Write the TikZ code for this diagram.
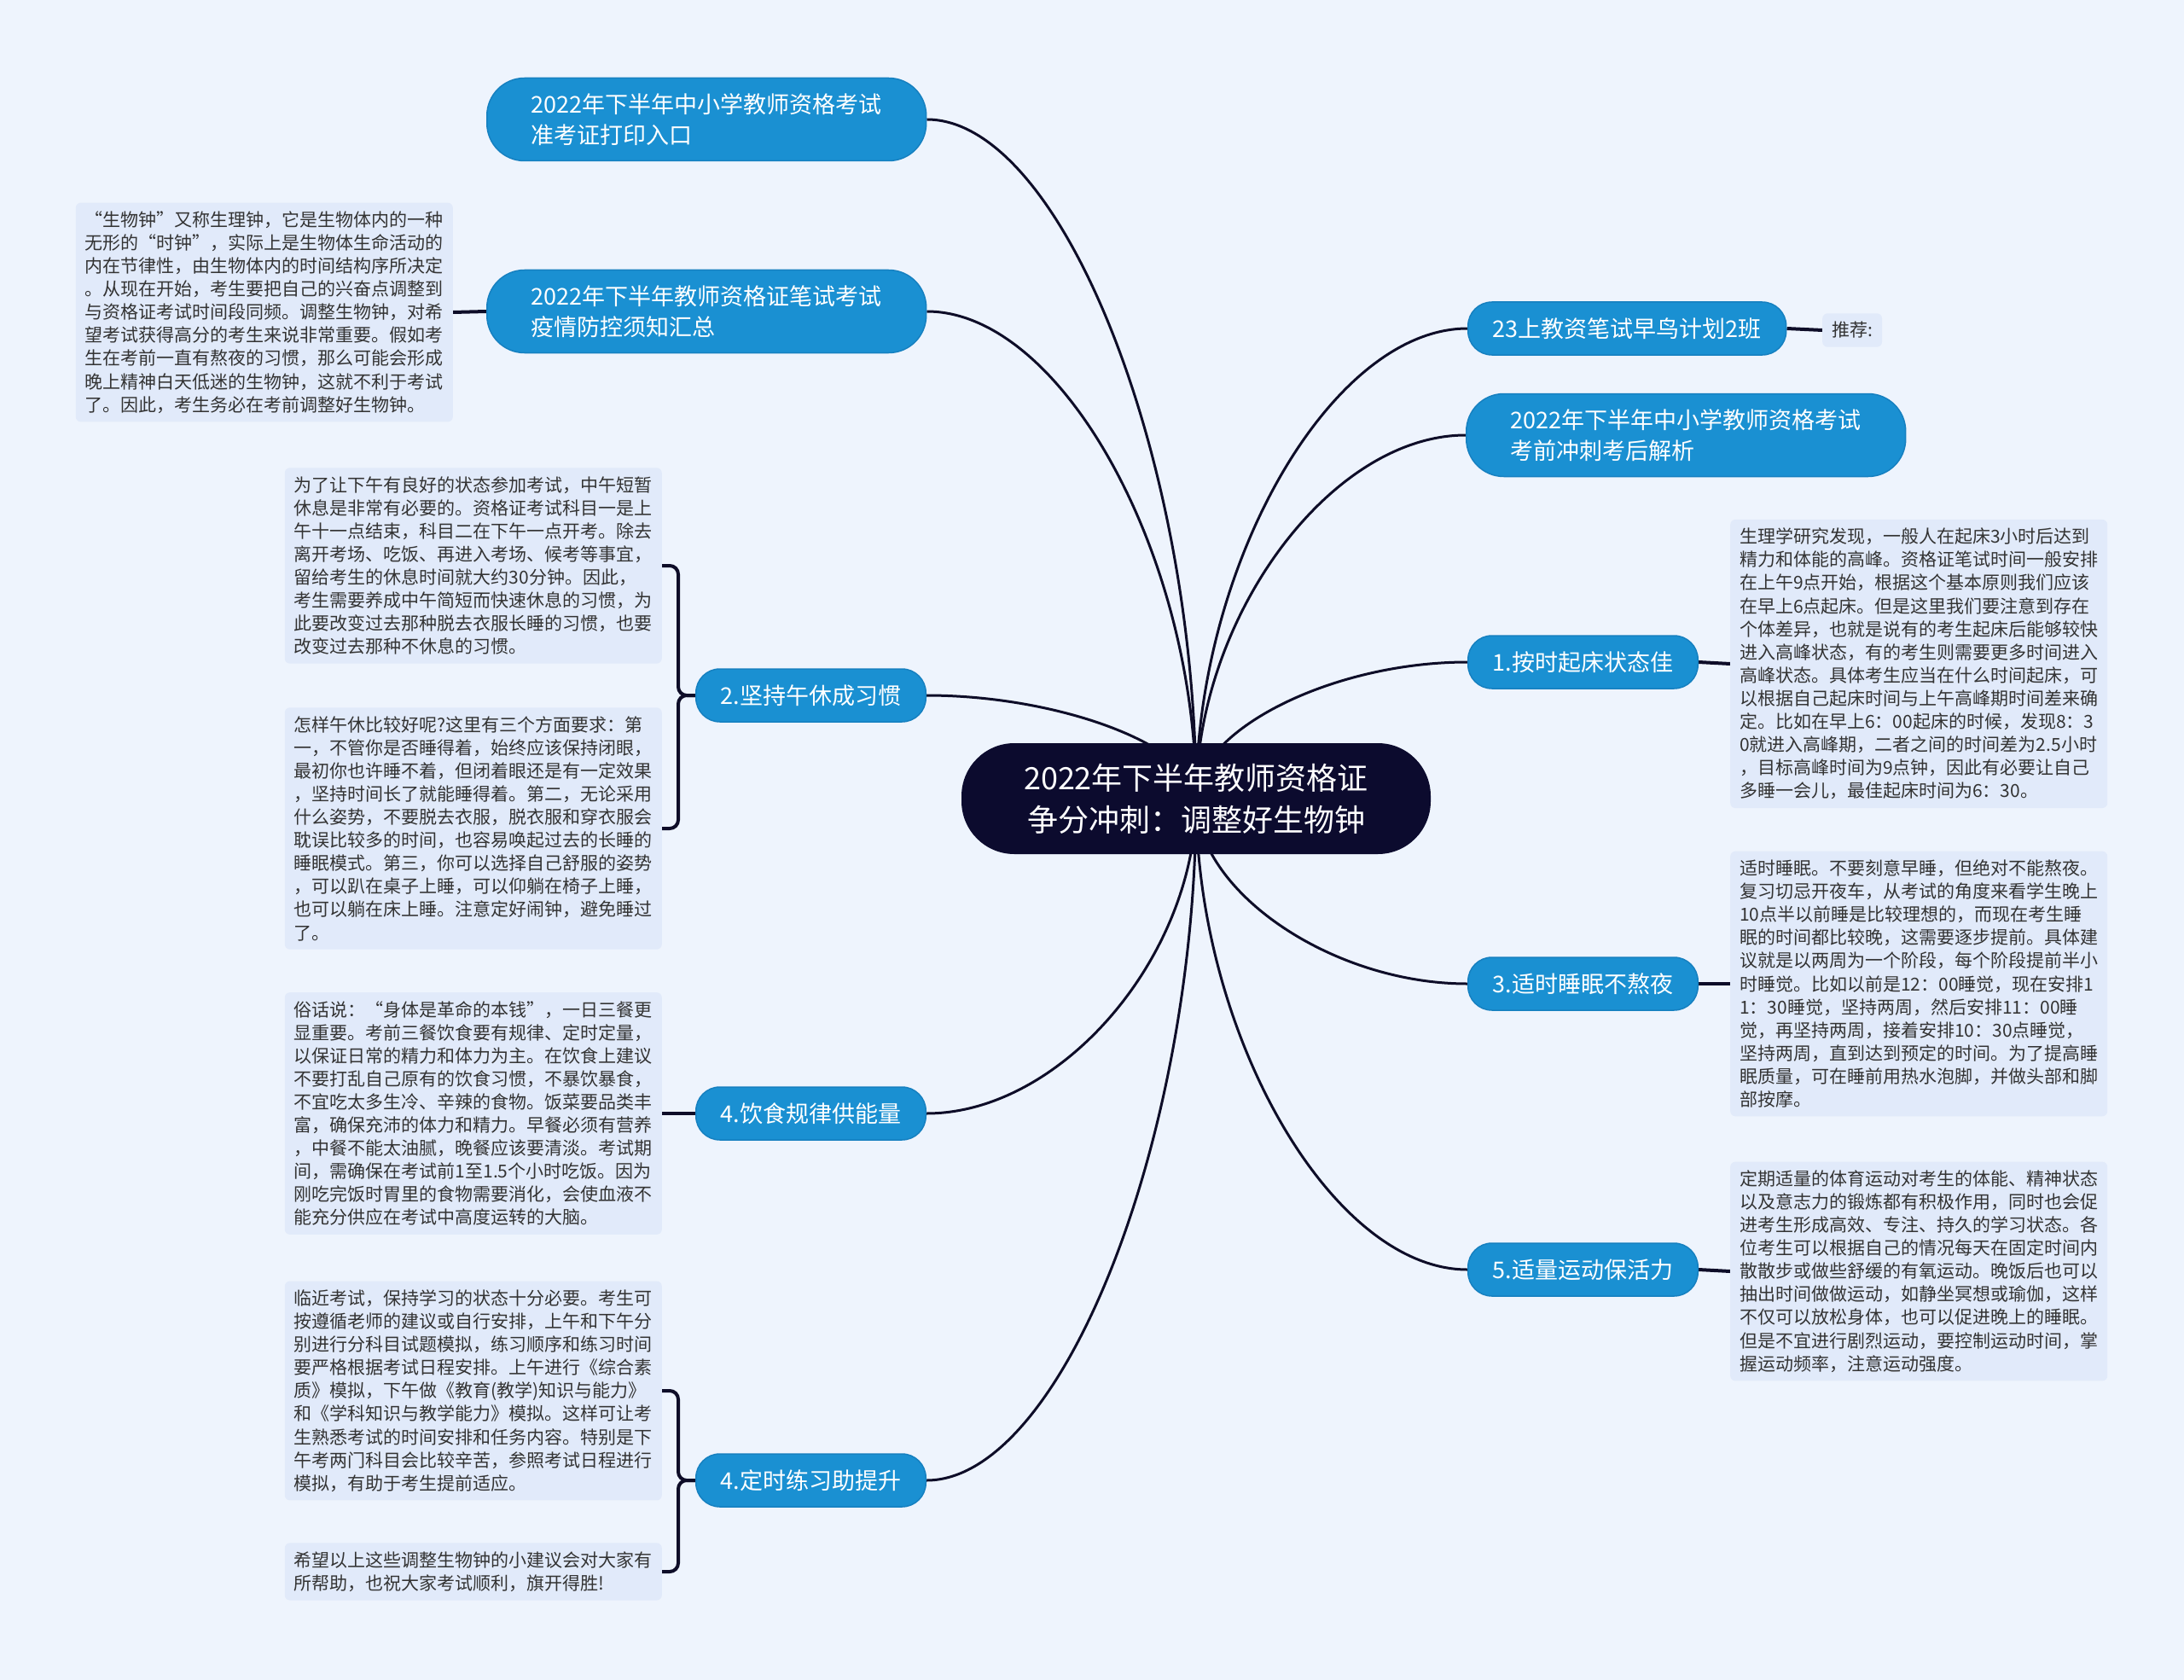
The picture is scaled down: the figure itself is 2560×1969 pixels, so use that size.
\documentclass[tikz,border=0pt]{standalone}
\usepackage{fontspec}
\setmainfont{Noto Sans CJK SC}
\usetikzlibrary{calc}

\definecolor{pagebg}{RGB}{238,244,253}
\definecolor{notefill}{RGB}{225,234,250}
\definecolor{notetext}{RGB}{51,51,51}
\definecolor{topicblue}{RGB}{26,144,210}
\definecolor{topicedge}{RGB}{22,128,192}
\definecolor{rootfill}{RGB}{12,11,46}
\definecolor{linkcol}{RGB}{14,13,40}

\pgfdeclarelayer{back}
\pgfsetlayers{back,main}

\tikzset{
  root/.style={fill=rootfill, text=white, rounded corners=62, minimum width=550,
    minimum height=130, align=center, font=\fontsize{36}{49}\selectfont},
  topic/.style={fill=topicblue, draw=topicedge, line width=1.5, text=white,
    rounded corners=28, minimum width=269, minimum height=62, inner xsep=29,
    inner ysep=0, align=left, font=\fontsize{27}{36}\selectfont},
  wide/.style={minimum height=97, rounded corners=44, inner xsep=52},
  note/.style={fill=notefill, text=notetext, rounded corners=6, inner xsep=11,
    inner ysep=10, align=left, font=\fontsize{21}{27.1}\selectfont},
  branch/.style={draw=linkcol, line width=3},
  twig/.style={draw=linkcol, line width=4, rounded corners=10}
}

\begin{document}
\begin{tikzpicture}[x=1pt, y=-1pt]
    \useasboundingbox (0,0) rectangle (2560,1969);
    \begin{pgfonlayer}{back}
      \fill[pagebg] (0,0) rectangle (2560,1969);
    \end{pgfonlayer}

    % centre
    \node[root] (ctr) at (1402,936) {2022年下半年教师资格证\\争分冲刺：调整好生物钟};

    % left topics
    \node[topic, wide, anchor=west] (a) at (570,140) {2022年下半年中小学教师资格考试\\准考证打印入口};
    \node[topic, wide, anchor=west] (b) at (570,365) {2022年下半年教师资格证笔试考试\\疫情防控须知汇总};
    \node[topic, anchor=west] (c) at (815,815) {2.坚持午休成习惯};
    \node[topic, anchor=west] (d) at (815,1305) {4.饮食规律供能量};
    \node[topic, anchor=west] (e) at (815,1735) {4.定时练习助提升};

    % right topics
    \node[topic, anchor=west] (f) at (1720,385) {23上教资笔试早鸟计划2班};
    \node[topic, wide, anchor=west] (g) at (1718,510) {2022年下半年中小学教师资格考试\\考前冲刺考后解析};
    \node[topic, anchor=west] (h) at (1720,776) {1.按时起床状态佳};
    \node[topic, anchor=west] (i) at (1720,1153) {3.适时睡眠不熬夜};
    \node[topic, anchor=west] (j) at (1720,1488) {5.适量运动保活力};

    % notes, left side
    \node[note, anchor=east] (nb) at (531,366) {“生物钟”又称生理钟，它是生物体内的一种\\
      无形的“时钟”，实际上是生物体生命活动的\\
      内在节律性，由生物体内的时间结构序所决定\\
      。从现在开始，考生要把自己的兴奋点调整到\\
      与资格证考试时间段同频。调整生物钟，对希\\
      望考试获得高分的考生来说非常重要。假如考\\
      生在考前一直有熬夜的习惯，那么可能会形成\\
      晚上精神白天低迷的生物钟，这就不利于考试\\
      了。因此，考生务必在考前调整好生物钟。};
    \node[note, anchor=east] (nc1) at (776,663) {为了让下午有良好的状态参加考试，中午短暂\\
      休息是非常有必要的。资格证考试科目一是上\\
      午十一点结束，科目二在下午一点开考。除去\\
      离开考场、吃饭、再进入考场、候考等事宜，\\
      留给考生的休息时间就大约30分钟。因此，\\
      考生需要养成中午简短而快速休息的习惯，为\\
      此要改变过去那种脱去衣服长睡的习惯，也要\\
      改变过去那种不休息的习惯。};
    \node[note, anchor=east] (nc2) at (776,971) {怎样午休比较好呢?这里有三个方面要求：第\\
      一，不管你是否睡得着，始终应该保持闭眼，\\
      最初你也许睡不着，但闭着眼还是有一定效果\\
      ，坚持时间长了就能睡得着。第二，无论采用\\
      什么姿势，不要脱去衣服，脱衣服和穿衣服会\\
      耽误比较多的时间，也容易唤起过去的长睡的\\
      睡眠模式。第三，你可以选择自己舒服的姿势\\
      ，可以趴在桌子上睡，可以仰躺在椅子上睡，\\
      也可以躺在床上睡。注意定好闹钟，避免睡过\\
      了。};
    \node[note, anchor=east] (nd) at (776,1305) {俗话说：“身体是革命的本钱”，一日三餐更\\
      显重要。考前三餐饮食要有规律、定时定量，\\
      以保证日常的精力和体力为主。在饮食上建议\\
      不要打乱自己原有的饮食习惯，不暴饮暴食，\\
      不宜吃太多生冷、辛辣的食物。饭菜要品类丰\\
      富，确保充沛的体力和精力。早餐必须有营养\\
      ，中餐不能太油腻，晚餐应该要清淡。考试期\\
      间，需确保在考试前1至1.5个小时吃饭。因为\\
      刚吃完饭时胃里的食物需要消化，会使血液不\\
      能充分供应在考试中高度运转的大脑。};
    \node[note, anchor=east] (ne1) at (776,1630) {临近考试，保持学习的状态十分必要。考生可\\
      按遵循老师的建议或自行安排，上午和下午分\\
      别进行分科目试题模拟，练习顺序和练习时间\\
      要严格根据考试日程安排。上午进行《综合素\\
      质》模拟，下午做《教育(教学)知识与能力》\\
      和《学科知识与教学能力》模拟。这样可让考\\
      生熟悉考试的时间安排和任务内容。特别是下\\
      午考两门科目会比较辛苦，参照考试日程进行\\
      模拟，有助于考生提前适应。};
    \node[note, anchor=east] (ne2) at (776,1842) {希望以上这些调整生物钟的小建议会对大家有\\
      所帮助，也祝大家考试顺利，旗开得胜!};

    % notes, right side
    \node[note, anchor=west] (nf) at (2136,387) {推荐:};
    \node[note, anchor=west] (nh) at (2028,778) {生理学研究发现，一般人在起床3小时后达到\\
      精力和体能的高峰。资格证笔试时间一般安排\\
      在上午9点开始，根据这个基本原则我们应该\\
      在早上6点起床。但是这里我们要注意到存在\\
      个体差异，也就是说有的考生起床后能够较快\\
      进入高峰状态，有的考生则需要更多时间进入\\
      高峰状态。具体考生应当在什么时间起床，可\\
      以根据自己起床时间与上午高峰期时间差来确\\
      定。比如在早上6：00起床的时候，发现8：3\\
      0就进入高峰期，二者之间的时间差为2.5小时\\
      ，目标高峰时间为9点钟，因此有必要让自己\\
      多睡一会儿，最佳起床时间为6：30。};
    \node[note, anchor=west] (ni) at (2028,1153) {适时睡眠。不要刻意早睡，但绝对不能熬夜。\\
      复习切忌开夜车，从考试的角度来看学生晚上\\
      10点半以前睡是比较理想的，而现在考生睡\\
      眠的时间都比较晚，这需要逐步提前。具体建\\
      议就是以两周为一个阶段，每个阶段提前半小\\
      时睡觉。比如以前是12：00睡觉，现在安排1\\
      1：30睡觉，坚持两周，然后安排11：00睡\\
      觉，再坚持两周，接着安排10：30点睡觉，\\
      坚持两周，直到达到预定的时间。为了提高睡\\
      眠质量，可在睡前用热水泡脚，并做头部和脚\\
      部按摩。};
    \node[note, anchor=west] (nj) at (2028,1490) {定期适量的体育运动对考生的体能、精神状态\\
      以及意志力的锻炼都有积极作用，同时也会促\\
      进考生形成高效、专注、持久的学习状态。各\\
      位考生可以根据自己的情况每天在固定时间内\\
      散散步或做些舒缓的有氧运动。晚饭后也可以\\
      抽出时间做做运动，如静坐冥想或瑜伽，这样\\
      不仅可以放松身体，也可以促进晚上的睡眠。\\
      但是不宜进行剧烈运动，要控制运动时间，掌\\
      握运动频率，注意运动强度。};

    \begin{pgfonlayer}{back}
      % branches from the centre
      \foreach \n/\s in {a/east, b/east, c/east, d/east, e/east,
                         f/west, g/west, h/west, i/west, j/west} {
        \coordinate (k) at (ctr.center |- \n.\s);
        \draw[branch] (ctr.center)
          .. controls ($(ctr.center)!0.5!(k)$) and ($(\n.\s)!0.5!(k)$) .. (\n.\s);
      }
      % notes
      \draw[twig] (b.west) -- (nb.east);
      \draw[twig] (c.west) -- ++(-20,0) |- (nc1.east);
      \draw[twig] (c.west) -- ++(-20,0) |- (nc2.east);
      \draw[twig] (d.west) -- (nd.east);
      \draw[twig] (e.west) -- ++(-20,0) |- (ne1.east);
      \draw[twig] (e.west) -- ++(-20,0) |- (ne2.east);
      \draw[twig] (f.east) -- (nf.west);
      \draw[twig] (h.east) -- (nh.west);
      \draw[twig] (i.east) -- (ni.west);
      \draw[twig] (j.east) -- (nj.west);
    \end{pgfonlayer}
  \end{tikzpicture}
\end{document}
